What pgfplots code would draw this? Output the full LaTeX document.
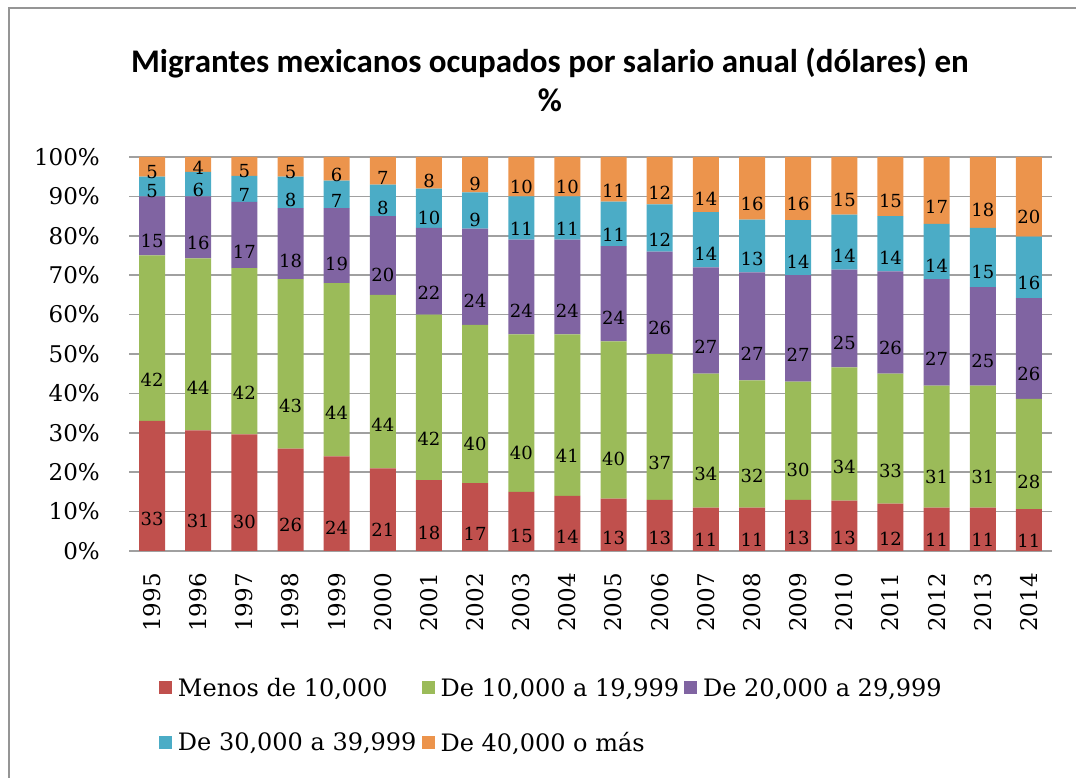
\documentclass[border=0pt]{standalone}
\usepackage{pgfplots}
\pgfplotsset{compat=1.18}
\usepackage{pgfplotstable}
\usepackage{fontspec}
\setmainfont{DejaVu Serif}
\newfontfamily\titlefont{Carlito}

\definecolor{cRed}{HTML}{C0504D}
\definecolor{cGreen}{HTML}{9BBB59}
\definecolor{cPurple}{HTML}{8064A2}
\definecolor{cBlue}{HTML}{4BACC6}
\definecolor{cOrange}{HTML}{EC944C}
\definecolor{gridGray}{HTML}{A0A0A0}
\definecolor{frameGray}{HTML}{959595}

% shares per year (%), bottom to top
\pgfplotstableread{
x  a    b    c    d    e
0  33   42   15   5    5
1  30.6 43.7 15.7 6.2  3.8
2  29.6 42.2 16.8 6.6  4.8
3  26   43   18   8    5
4  24   44   19   7    6
5  21   44   20   8    7
6  18   42   22   10   8
7  17.2 40.2 24.4 9.2  9.0
8  15   40   24   11   10
9  14   41   24   11   10
10 13.3 39.9 24.2 11.3 11.3
11 13   37   26   12   12
12 11   34   27   14   14
13 11.0 32.3 27.4 13.4 15.9
14 13   30   27   14   16
15 12.8 33.8 24.8 14.0 14.6
16 12   33   26   14   15
17 11   31   27   14   17
18 11   31   25   15   18
19 10.6 28.0 25.6 15.6 20.2
}\datatable

\begin{document}
\begin{tikzpicture}
\useasboundingbox (0pt,0pt) rectangle (1076pt,778pt);
\draw[frameGray, line width=2pt] (9pt,0pt) -- (9pt,770pt) -- (1076pt,770pt);
\begin{axis}[
    at={(129pt,227pt)}, anchor=south west,
    scale only axis,
    width=923pt, height=394pt,
    ybar stacked,
    bar width=26pt,
    xmin=-0.5, xmax=19.5,
    ymin=0, ymax=100,
    xtick={0,...,19},
    xticklabels={1995,1996,1997,1998,1999,2000,2001,2002,2003,2004,2005,2006,2007,2008,2009,2010,2011,2012,2013,2014},
    ytick={0,10,...,100},
    yticklabels={0\%,10\%,20\%,30\%,40\%,50\%,60\%,70\%,80\%,90\%,100\%},
    /pgf/number format/assume math mode=true,
    axis line style={draw=none},
    major tick length=0pt,
    ymajorgrids,
    grid style={draw=gridGray, line width=1.6pt},
    tick label style={font=\fontsize{23}{27}\selectfont, black},
    xticklabel style={yshift=-22pt, rotate=90, anchor=east, inner sep=0pt},
    yticklabel style={anchor=east, inner sep=0pt, xshift=-29pt},
    title={Migrantes mexicanos ocupados por salario anual (dólares) en\\\%},
    title style={font=\titlefont\bfseries\fontsize{33}{39}\selectfont, align=center,
        at={(0.456,1.180)}, anchor=center},
    nodes near coords={\pgfmathprintnumber[fixed,precision=0]{\rawy}},
    visualization depends on=rawy \as \rawy,
    every node near coord/.append style={font=\fontsize{18}{18}\selectfont, black,
        anchor=center, yshift={-0.985pt*\rawy}},
    legend style={draw=none, at={(0.029,-0.312)}, anchor=north west,
        font=\fontsize{24}{28}\selectfont, row sep=30pt,
        /tikz/every odd column/.append style={column sep=4pt},
        /tikz/every even column/.append style={column sep=3pt}},
    legend columns=3,
    legend cell align=left,
    legend image code/.code={\fill[#1] (0pt,-6.5pt) rectangle (13pt,6.5pt);},
]
\addplot[fill=cRed, draw=none] table[x=x, y=a] {\datatable};
\addlegendentry{Menos de 10,000}
\addplot[fill=cGreen, draw=none] table[x=x, y=b] {\datatable};
\addlegendentry{De 10,000 a 19,999}
\addplot[fill=cPurple, draw=none] table[x=x, y=c] {\datatable};
\addlegendentry{De 20,000 a 29,999}
\addplot[fill=cBlue, draw=none] table[x=x, y=d] {\datatable};
\addlegendentry{De 30,000 a 39,999}
\addplot[fill=cOrange, draw=none] table[x=x, y=e] {\datatable};
\addlegendentry{De 40,000 o más}
\end{axis}
\end{tikzpicture}
\end{document}
